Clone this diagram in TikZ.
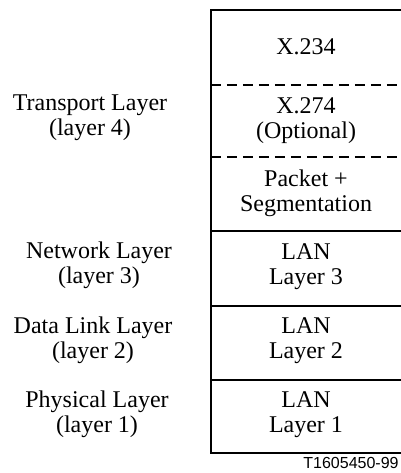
\documentclass[tikz,border=0pt]{standalone}
\usepackage{fontspec}
\setmainfont{Liberation Serif}
\newfontfamily\figfont{Liberation Sans}
\usepackage{tikz}
\usetikzlibrary{positioning}

\begin{document}
\begin{tikzpicture}[x=0.5pt,y=-0.5pt,
    every node/.style={font=\fontsize{12}{12.5}\selectfont,align=center,inner sep=0pt},
    sep/.style={line width=0.55pt},
    dsep/.style={line width=0.6pt,dash pattern=on 5pt off 3pt}]
  \useasboundingbox (0,0) rectangle (401,473);
  % stack frame
  \draw[sep] (401,10) -- (211,10) -- (211,453) -- (401,453);
  \draw[dsep] (211,85) -- (401,85);
  \draw[dsep] (211,157) -- (401,157);
  \foreach \y in {231,306,380} {
     \draw[sep] (211,\y) -- (401,\y);
  }
  % cells
  \node (x234) at (306,47) {X.234};
  \node (x274) at (306,121) {X.274\\(Optional)};
  \node (pkt)  at (306,193) {Packet +\\Segmentation};
  \node (lan3) at (306,267) {LAN\\Layer 3};
  \node (lan2) at (306,341) {LAN\\Layer 2};
  \node (lan1) at (306,415) {LAN\\Layer 1};
  % OSI layers
  \node (transp) at (90,118) {Transport Layer\\(layer 4)};
  \node (netw)   at (99,265) {Network Layer\\(layer 3)};
  \node (dlink)  at (93,340) {Data Link Layer\\(layer 2)};
  \node (phys)   at (97,414) {Physical Layer\\(layer 1)};
  % figure number
  \node[anchor=east,font=\figfont\fontsize{8}{9}\selectfont] (fignum) at (399,463) {T1605450-99};
\end{tikzpicture}
\end{document}
